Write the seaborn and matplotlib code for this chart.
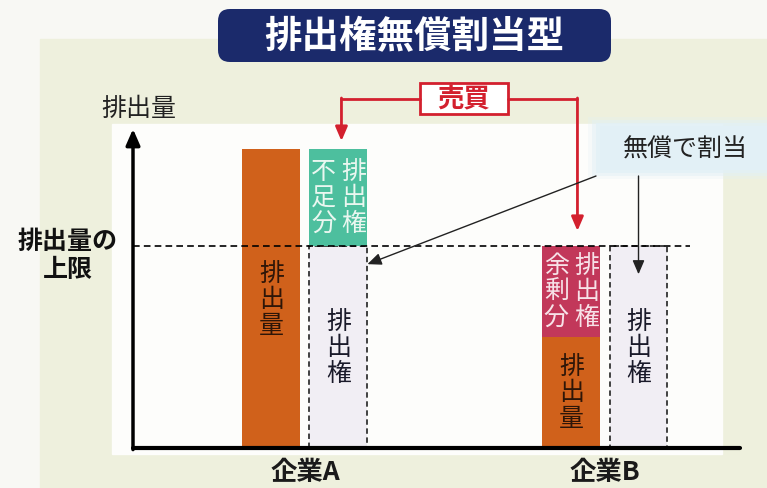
import numpy as np
import pandas as pd
import matplotlib
matplotlib.use("Agg")
import matplotlib.pyplot as plt
import seaborn as sns
from matplotlib.patches import FancyBboxPatch, Rectangle

# Data
companies = ["企業A", "企業B"]
emissions = [148, 55]        # 排出量
allowances = [100, 100]      # 無償で割り当てられた排出権
cap = 100                    # 排出量の上限

title = "排出権無償割当型"
kinds = ["排出量", "排出権"]

# Colours
orange = "#d0611b"
light = "#f1eef4"
teal = "#4dbf9e"
crimson = "#c2385a"
red = "#d3202e"
navy = "#1b2a6b"

sns.set_theme(style="white")
plt.rcParams["font.family"] = ["Noto Sans CJK JP", "DejaVu Sans"]

W, H = 767, 489
fig = plt.figure(figsize=(W / 100, H / 100), dpi=100)

# background layer (pixel coords)
bg = fig.add_axes([0, 0, 1, 1], zorder=0)
bg.set_xlim(0, W)
bg.set_ylim(H, 0)
bg.axis("off")
bg.add_patch(Rectangle((0, 0), W, H, color="#f8f8f4"))
bg.add_patch(Rectangle((40, 40), W - 40, H - 40, color="#eef0dd"))
bg.add_patch(Rectangle((112, 125), 610, 330, color="#fdfdfb"))
# soft light-blue band behind 無償で割当
for k, a in enumerate([0.25, 0.45, 0.7, 1.0]):
    bg.add_patch(Rectangle((588 + 4 * k, 118 + 3 * k), W - 588 - 4 * k, 62 - 6 * k,
                           color="#e2f0f6", alpha=a, lw=0))

# main chart axes
x0, x1, yb, yt = 133, 740, 449, 130
ax = fig.add_axes([x0 / W, (H - yb) / H, (x1 - x0) / W, (yb - yt) / H], zorder=1)
ax.patch.set_alpha(0)

df = pd.DataFrame({
    "company": companies * 2,
    "value": emissions + allowances,
    "kind": [kinds[0]] * 2 + [kinds[1]] * 2,
})
sns.barplot(data=df, x="company", y="value", hue="kind",
            palette={kinds[0]: orange, kinds[1]: light},
            width=0.447, gap=0.136, saturation=1, errorbar=None,
            legend=False, linewidth=0, ax=ax)

ax.set_xlim(-0.573, 1.45)
ax.set_ylim(0, 157.9)

em_bars = ax.containers[0]
al_bars = ax.containers[1]

for p in al_bars:
    p.set_edgecolor("#333333")
    p.set_linewidth(1.3)
    p.set_linestyle((0, (3, 2)))


def centre(p):
    return p.get_x() + p.get_width() / 2


def vtext(x, y, s, color, size=18):
    ax.text(x, y, "\n".join(s), ha="center", va="center", color=color,
            fontsize=size, linespacing=1.0, zorder=5)


off = 0.05
for i in range(len(companies)):
    e, a = emissions[i], allowances[i]
    pe, pa = em_bars[i], al_bars[i]
    if e > a:
        ax.bar(centre(pa), e - a, bottom=a, width=pa.get_width(), color=teal,
               linewidth=0, zorder=3)
        vtext(centre(pa) - off, (a + e) / 2, "不足分", "#eaf7f0")
        vtext(centre(pa) + off, (a + e) / 2, "排出権", "#eaf7f0")
    else:
        ax.bar(centre(pe), a - e, bottom=e, width=pe.get_width(), color=crimson,
               linewidth=0, zorder=3)
        vtext(centre(pe) - off, (a + e) / 2, "余剰分", "#f7e2e8")
        vtext(centre(pe) + off, (a + e) / 2, "排出権", "#f7e2e8")
    vtext(centre(pe), e / 2, "排出量", "#2e1608")
    vtext(centre(pa), a / 2, "排出権", "#1a1a2a")

# cap line
ax.axhline(cap, xmin=0, xmax=(690 - x0) / (x1 - x0), color="black", lw=1.2,
           ls=(0, (4, 2.5)), zorder=4)

# axes
for s in ax.spines.values():
    s.set_visible(False)
ax.plot([0, 1], [0, 0], transform=ax.transAxes, color="black", lw=3,
        clip_on=False, zorder=6)
ax.annotate("", xy=(0, 1), xytext=(0, -0.005), xycoords="axes fraction",
            arrowprops=dict(arrowstyle="-|>,head_length=0.8,head_width=0.35",
                            lw=2.5, color="black", shrinkA=0, shrinkB=0))
ax.set_yticks([])
ax.set_xlabel("")
ax.set_ylabel("")
ax.tick_params(axis="x", length=0, pad=7, labelsize=19, labelcolor="#1a1a1a")
for lab in ax.get_xticklabels():
    lab.set_fontweight("bold")

# foreground layer (pixel coords)
fg = fig.add_axes([0, 0, 1, 1], zorder=3)
fg.set_xlim(0, W)
fg.set_ylim(H, 0)
fg.axis("off")
fg.patch.set_alpha(0)


def to_px(x, y):
    return fg.transData.inverted().transform(ax.transData.transform((x, y)))


# title
fg.add_patch(FancyBboxPatch((218, 10), 393, 53,
                            boxstyle="round,pad=0,rounding_size=12",
                            facecolor=navy, edgecolor="none"))
fg.text(414, 37, title, ha="center", va="center", color="white",
        fontsize=27, fontweight="bold")

# labels
fg.text(139, 109, "排出量", ha="center", va="center", fontsize=18, color="#222222")
fg.text(68, 256, "排出量の\n上限", ha="center", va="center", fontsize=18,
        fontweight="bold", color="#111111", linespacing=1.25)
fg.text(685, 150, "無償で割当", ha="center", va="center", fontsize=18, color="#222222")

# 売買 box and red arrows
fg.add_patch(Rectangle((420, 84), 88, 31, facecolor="white", edgecolor=red, lw=2))
fg.text(464, 99.5, "売買", ha="center", va="center", color=red, fontsize=19,
        fontweight="bold")
red_arrow = dict(arrowstyle="-|>,head_length=0.7,head_width=0.3", lw=2,
                 color=red, shrinkA=0, shrinkB=0)
ta = to_px(centre(al_bars[0]), emissions[0])
tb = to_px(centre(em_bars[1]), cap)
xa, xb = ta[0] + 3, tb[0] + 6
fg.plot([420, xa], [100, 100], color=red, lw=2)
fg.plot([508, xb], [100, 100], color=red, lw=2)
fg.annotate("", xy=(xa, ta[1] - 8), xytext=(xa, 99), arrowprops=red_arrow)
fg.annotate("", xy=(xb, tb[1] - 15), xytext=(xb, 99), arrowprops=red_arrow)

# free allocation arrows
blk_arrow = dict(arrowstyle="-|>,head_length=0.7,head_width=0.3", lw=1,
                 color="#222222", shrinkA=0, shrinkB=0)
pa0 = al_bars[0]
t1 = to_px(pa0.get_x() + pa0.get_width(), cap - 9)
t2 = to_px(centre(al_bars[1]), cap - 14)
fg.annotate("", xy=t1, xytext=(596, 177), arrowprops=blk_arrow)
fg.annotate("", xy=t2, xytext=(t2[0], 177), arrowprops=blk_arrow)

fig.savefig("out.png", dpi=100)
